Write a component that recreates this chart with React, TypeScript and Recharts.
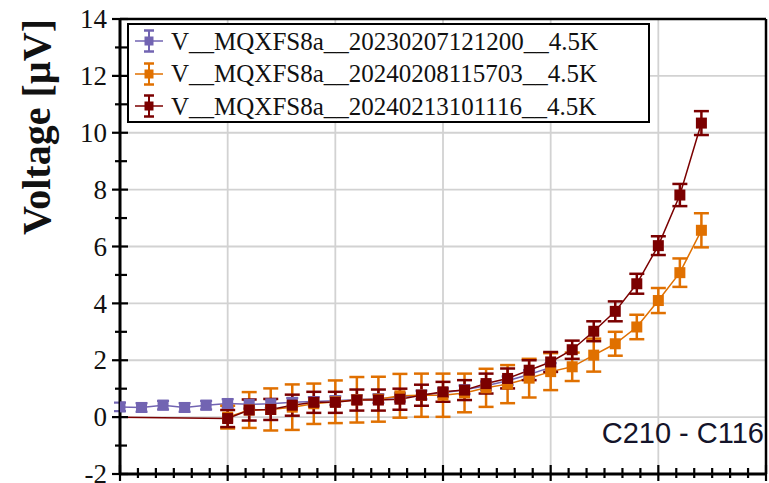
import { ComposedChart, Line, XAxis, YAxis, CartesianGrid, ErrorBar } from 'recharts'

// sweep positions (every 6 units, majors every 30)
const xPurple = [0, 6, 12, 18, 24, 30, 36, 42, 48, 54, 60, 66, 72, 78, 84, 90, 96, 102, 108, 114, 120]
const xOrange = [30, 36, 42, 48, 54, 60, 66, 72, 78, 84, 90, 96, 102, 108, 114, 120, 126, 132, 138, 144, 150, 156, 162]
const xRed = [0, 30, 36, 42, 48, 54, 60, 66, 72, 78, 84, 90, 96, 102, 108, 114, 120, 126, 132, 138, 144, 150, 156, 162]

// voltages in µV with their uncertainties
const vPurple = [0.36, 0.34, 0.42, 0.34, 0.42, 0.48, 0.45, 0.47, 0.52, 0.55, 0.58, 0.62, 0.65, 0.7, 0.78, 0.86, 0.96, 1.1, 1.28, 1.5, 1.75]
const ePurple = [0.15, 0.15, 0.15, 0.15, 0.15, 0.15, 0.15, 0.15, 0.15, 0.15, 0.15, 0.15, 0.15, 0.15, 0.15, 0.15, 0.15, 0.15, 0.15, 0.15, 0.15]
const vOrange = [0.0, 0.25, 0.27, 0.35, 0.47, 0.54, 0.61, 0.63, 0.75, 0.77, 0.77, 0.85, 1.03, 1.16, 1.37, 1.6, 1.77, 2.18, 2.58, 3.17, 4.1, 5.08, 6.57]
const eOrange = [0.4, 0.63, 0.74, 0.8, 0.71, 0.75, 0.8, 0.79, 0.77, 0.76, 0.76, 0.68, 0.67, 0.67, 0.68, 0.65, 0.5, 0.58, 0.42, 0.43, 0.44, 0.5, 0.6]
const vRed = [0, -0.05, 0.25, 0.27, 0.42, 0.52, 0.52, 0.6, 0.6, 0.63, 0.77, 0.89, 0.95, 1.18, 1.36, 1.65, 1.94, 2.37, 3.02, 3.72, 4.69, 6.03, 7.81, 10.34]
const eRed = [0, 0.3, 0.37, 0.37, 0.37, 0.37, 0.37, 0.37, 0.37, 0.37, 0.37, 0.35, 0.35, 0.35, 0.35, 0.35, 0.35, 0.32, 0.35, 0.35, 0.35, 0.33, 0.39, 0.42]

const seriesNames = [
  'V__MQXFS8a__20230207121200__4.5K',
  'V__MQXFS8a__20240208115703__4.5K',
  'V__MQXFS8a__20240213101116__4.5K',
]
const seriesColors = ['#7264b2', '#e07000', '#7b0000']

const xMajor = [0, 30, 60, 90, 120, 150, 180]
const xTicks = Array.from({ length: 37 }, (_, i) => i * 5)
const yMajor = [-2, 0, 2, 4, 6, 8, 10, 12, 14]
const yTicks = Array.from({ length: 17 }, (_, i) => i - 2)

const rows = (xs: number[], vs: number[], es: number[]) => xs.map((x, i) => ({ x, y: vs[i], e: es[i] }))

const dataPurple = rows(xPurple, vPurple, ePurple)
const dataOrange = rows(xOrange, vOrange, eOrange)
const dataRed = rows(xRed, vRed, eRed)

const serif = '"Liberation Serif", "Times New Roman", serif'

// square marker; points without an uncertainty (the zero anchor) get none
const squareDot = (color: string) => (p: any) => {
  if (!p.payload.e) return <g key={p.index} />
  return <rect key={p.index} x={p.cx - 5.5} y={p.cy - 5.5} width={11} height={11} fill={color} />
}

// ticks straddle the axis line: long on majors, short in between
const XTick = (p: any) => {
  const major = p.payload.value % 30 === 0
  return <line x1={p.x} x2={p.x} y1={p.y - (major ? 9 : 6)} y2={p.y + (major ? 7 : 4)} stroke="#000" strokeWidth={2.2} />
}

const YTick = (p: any) => {
  const v = p.payload.value
  const major = v % 2 === 0
  return (
    <g>
      <line x1={p.x - (major ? 8 : 5)} x2={p.x + (major ? 8 : 7)} y1={p.y} y2={p.y} stroke="#000" strokeWidth={2.2} />
      {major && (
        <text x={p.x - 13} y={p.y} dy="0.34em" textAnchor="end" fontFamily={serif} fontSize={27} fill="#111">
          {v}
        </text>
      )}
    </g>
  )
}

const YTitle = (p: any) => {
  const { x, y } = p.viewBox
  const cx = x - 10
  const cy = y + 108
  return (
    <text x={cx} y={cy} transform={`rotate(-90, ${cx}, ${cy})`} textAnchor="middle" fontFamily={serif} fontWeight="bold" fontSize={40} fill="#111">
      Voltage [µV]
    </text>
  )
}

function LegendIcon({ color }: { color: string }) {
  return (
    <svg width={28} height={26} style={{ display: 'block' }}>
      <line x1={0} x2={28} y1={13} y2={13} stroke={color} strokeWidth={1.5} />
      <line x1={14} x2={14} y1={2} y2={24} stroke={color} strokeWidth={2} />
      <line x1={9} x2={19} y1={2.5} y2={2.5} stroke={color} strokeWidth={2.5} />
      <line x1={9} x2={19} y1={23.5} y2={23.5} stroke={color} strokeWidth={2.5} />
      <rect x={9.5} y={8.5} width={9} height={9} fill={color} />
    </svg>
  )
}

export default function App() {
  return (
    <div style={{ position: 'absolute', left: 0, top: 0, width: 769, height: 483, overflow: 'hidden', background: '#fff' }}>
      <ComposedChart width={769} height={483} margin={{ top: 18, right: 2, bottom: 0, left: 60 }}>
        <CartesianGrid stroke="#d2d2d2" strokeWidth={1.8} verticalValues={xMajor} horizontalValues={yMajor} />
        <XAxis
          dataKey="x"
          type="number"
          domain={[0, 180]}
          ticks={xTicks}
          interval={0}
          minTickGap={0}
          height={9}
          tickSize={0}
          tickMargin={0}
          tick={<XTick />}
          axisLine={{ stroke: '#000', strokeWidth: 3 }}
          allowDataOverflow
        />
        <XAxis xAxisId="top" orientation="top" type="number" domain={[0, 180]} height={1} tick={false} tickLine={false} axisLine={{ stroke: '#000', strokeWidth: 2.5 }} />
        <YAxis
          type="number"
          domain={[-2, 14]}
          ticks={yTicks}
          interval={0}
          width={60}
          tickSize={0}
          tickMargin={0}
          tick={<YTick />}
          axisLine={{ stroke: '#000', strokeWidth: 3 }}
          allowDataOverflow
          label={<YTitle />}
        />
        <YAxis yAxisId="right" orientation="right" type="number" domain={[-2, 14]} width={1} tick={false} tickLine={false} axisLine={{ stroke: '#000', strokeWidth: 2.5 }} />

        <Line data={dataPurple} dataKey="y" type="linear" stroke={seriesColors[0]} strokeWidth={1.5} dot={squareDot(seriesColors[0])} activeDot={false} isAnimationActive={false}>
          <ErrorBar dataKey="e" direction="y" width={6} stroke={seriesColors[0]} strokeWidth={2.2} isAnimationActive={false} />
        </Line>
        <Line data={dataOrange} dataKey="y" type="linear" stroke={seriesColors[1]} strokeWidth={1.5} dot={squareDot(seriesColors[1])} activeDot={false} isAnimationActive={false}>
          <ErrorBar dataKey="e" direction="y" width={7.5} stroke={seriesColors[1]} strokeWidth={2.5} isAnimationActive={false} />
        </Line>
        <Line data={dataRed} dataKey="y" type="linear" stroke={seriesColors[2]} strokeWidth={1.5} dot={squareDot(seriesColors[2])} activeDot={false} isAnimationActive={false}>
          <ErrorBar dataKey="e" direction="y" width={7.5} stroke={seriesColors[2]} strokeWidth={2.5} isAnimationActive={false} />
        </Line>
      </ComposedChart>

      <div
        style={{
          position: 'absolute',
          left: 127,
          top: 23,
          width: 519,
          height: 96,
          border: '2.5px solid #000',
          background: '#fff',
          fontFamily: serif,
          fontSize: 25,
          color: '#111',
        }}
      >
        {seriesNames.map((name, i) => (
          <div key={name} style={{ display: 'flex', alignItems: 'center', height: 32.6, paddingLeft: 6 }}>
            <LegendIcon color={seriesColors[i]} />
            <span style={{ marginLeft: 8, lineHeight: 1 }}>{name}</span>
          </div>
        ))}
      </div>

      <div style={{ position: 'absolute', right: 5, top: 419, fontFamily: '"Liberation Sans", Arial, sans-serif', fontSize: 29, lineHeight: '29px', color: '#14142a' }}>
        C210 - C116
      </div>
    </div>
  )
}
